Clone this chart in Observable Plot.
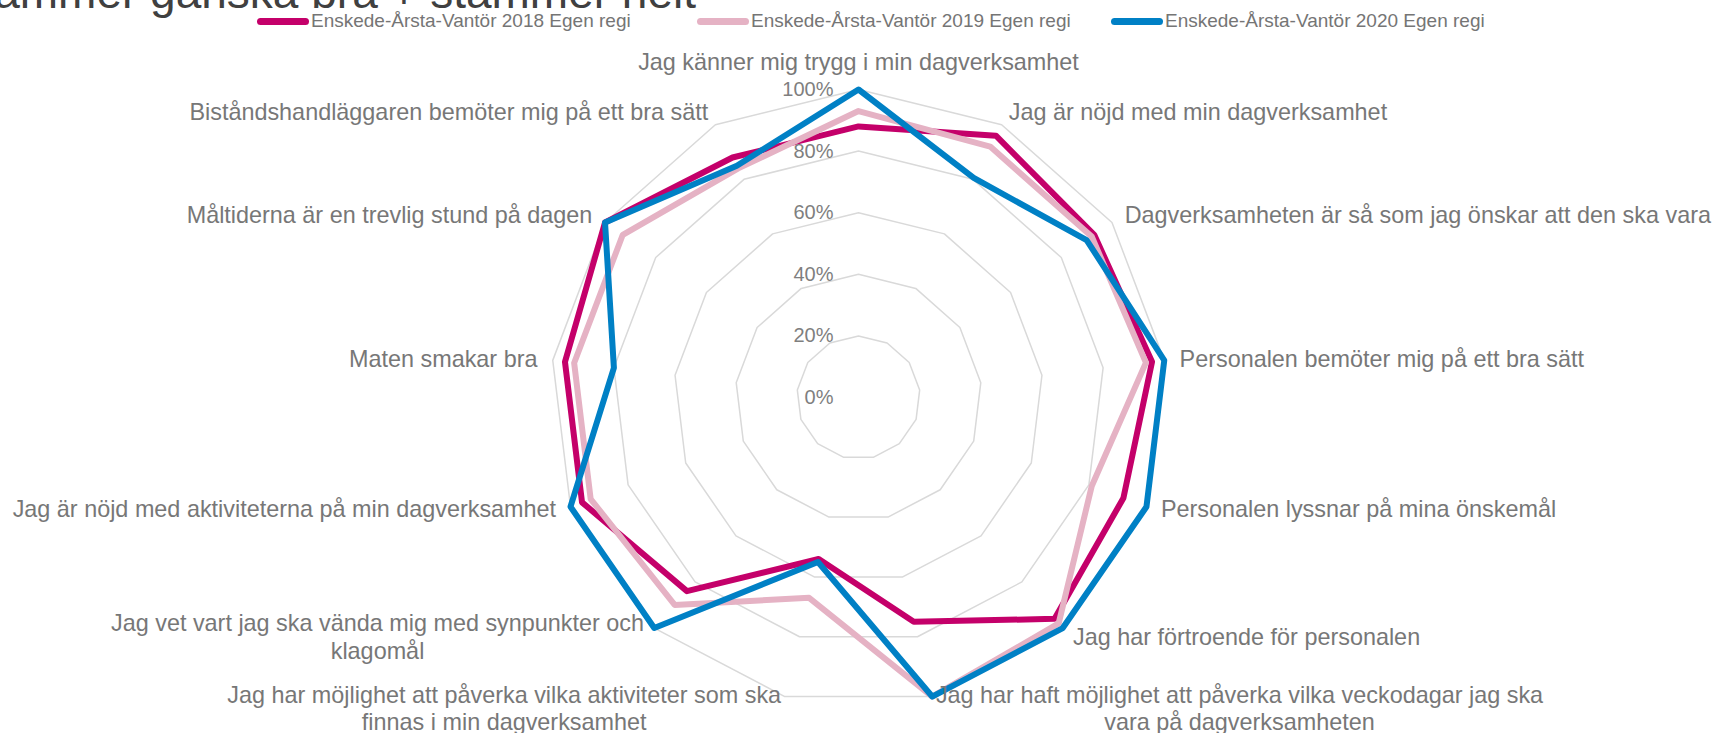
<!DOCTYPE html>
<html>
<head>
<meta charset="utf-8">
<script src="https://cdn.jsdelivr.net/npm/d3@7"></script>
<script src="https://cdn.jsdelivr.net/npm/@observablehq/plot@0.6"></script>
<style>
html, body { margin: 0; padding: 0; background: #fff; }
#wrap { position: relative; width: 1719px; height: 733px; overflow: hidden; font-family: "Liberation Sans", Arial, sans-serif; }
#title { position: absolute; right: 1023px; top: -31px; font-size: 46px; line-height: 1; color: #404040; white-space: nowrap; }
#legend { position: absolute; left: 0; top: 0; width: 1719px; height: 40px; }
.item { position: absolute; top: 10px; height: 22px; display: flex; align-items: center; font-size: 19px; color: #757575; white-space: nowrap; }
.sw { width: 52px; height: 7px; border-radius: 4px; margin-right: 2px; }
#chart { position: absolute; left: 0; top: 40px; }
</style>
</head>
<body>
<div id="wrap">
  <div id="title">stämmer ganska bra + stämmer helt</div>
  <div id="legend"></div>
  <div id="chart"></div>
</div>
<script>
// ---- data ----
const categories = [
  "Jag känner mig trygg i min dagverksamhet",
  "Jag är nöjd med min dagverksamhet",
  "Dagverksamheten är så som jag önskar att den ska vara",
  "Personalen bemöter mig på ett bra sätt",
  "Personalen lyssnar på mina önskemål",
  "Jag har förtroende för personalen",
  "Jag har haft möjlighet att påverka vilka veckodagar jag ska\nvara på dagverksamheten",
  "Jag har möjlighet att påverka vilka aktiviteter som ska\nfinnas i min dagverksamhet",
  "Jag vet vart jag ska vända mig med synpunkter och\nklagomål",
  "Jag är nöjd med aktiviteterna på min dagverksamhet",
  "Maten smakar bra",
  "Måltiderna är en trevlig stund på dagen",
  "Biståndshandläggaren bemöter mig på ett bra sätt"
];
const seriesNames = [
  "Enskede-Årsta-Vantör 2018 Egen regi",
  "Enskede-Årsta-Vantör 2019 Egen regi",
  "Enskede-Årsta-Vantör 2020 Egen regi"
];
const values2018 = [88, 96, 93, 96, 92, 96, 75, 54, 84, 96, 96, 100, 88];
const values2019 = [93, 92, 92, 94, 81, 98, 100, 67, 90, 93, 93, 93, 84];
const values2020 = [100, 80.5, 90, 100, 100, 100, 100, 55, 100, 100, 80, 100, 85];
const tickValues = [0, 20, 40, 60, 80, 100];
const tickLabels = ["0%", "20%", "40%", "60%", "80%", "100%"];
const gridRings = [20, 40, 60, 80, 100];
const seriesColors = ["#C4006A", "#E5B2C4", "#0080C5"];

// ---- layout ----
const W = 1719, H = 693, CX = 858, CY = 357, R = 308;
const n = categories.length;
const labelR = 1.05;
const labelFont = 23.4;
const lowerShift = 3.5; // px, lower labels sit slightly higher
const textGray = "#777777";

const angle = i => 2 * Math.PI * i / n;
const px = (v, i) => (v / 100) * Math.sin(angle(i));
const py = (v, i) => (v / 100) * Math.cos(angle(i));

const allValues = [values2018, values2019, values2020];
const seriesPts = [];
allValues.forEach((vals, s) => vals.forEach((v, i) => seriesPts.push({series: seriesNames[s], i, x: px(v, i), y: py(v, i)})));

const gridPts = [];
gridRings.forEach(r => categories.forEach((c, i) => gridPts.push({r, x: px(r, i), y: py(r, i)})));

// text measuring for multi-line labels (box edge at anchor, lines centered in box)
const ctx = document.createElement("canvas").getContext("2d");
ctx.font = `${labelFont}px "Liberation Sans", Arial, sans-serif`;
const measure = s => ctx.measureText(s).width;

const labelData = categories.map((c, i) => {
  const s = Math.sin(angle(i)), co = Math.cos(angle(i));
  const lines = c.split("\n");
  const side = Math.abs(s) < 1e-6 ? 0 : Math.sign(s);
  const anchor = side === 0 || lines.length > 1 ? "middle" : side > 0 ? "start" : "end";
  let lx = labelR * s;
  if (lines.length > 1) lx += side * d3.max(lines, measure) / 2 / R;
  let ly = labelR * co + (co < 0 ? lowerShift / R : 0);
  return {text: c, x: lx, y: ly, anchor, top: side === 0 && co > 0};
});

const tickData = tickValues.map((v, k) => ({v: v / 100, label: tickLabels[k]}));

const labelOpts = {x: "x", y: "y", text: "text", fontSize: labelFont, fill: textGray, lineHeight: 1.17};

const chart = Plot.plot({
  width: W,
  height: H,
  margin: 0,
  style: {fontFamily: '"Liberation Sans", Arial, sans-serif', background: "white", overflow: "visible"},
  x: {domain: [-CX / R, (W - CX) / R], axis: null},
  y: {domain: [-(H - CY) / R, CY / R], axis: null},
  color: {domain: seriesNames, range: seriesColors},
  marks: [
    Plot.line(gridPts, {x: "x", y: "y", z: "r", curve: "linear-closed", stroke: "#D9D9D9", strokeWidth: 1.5}),
    Plot.line(seriesPts, {x: "x", y: "y", z: "series", stroke: "series", curve: "linear-closed", strokeWidth: 6, strokeLinejoin: "round"}),
    Plot.text(tickData, {x: 0, y: "v", text: "label", textAnchor: "end", dx: -25, fontSize: 20, fill: "#7F7F7F"}),
    Plot.text(labelData.filter(d => d.anchor === "start"), {...labelOpts, textAnchor: "start"}),
    Plot.text(labelData.filter(d => d.anchor === "end"), {...labelOpts, textAnchor: "end"}),
    Plot.text(labelData.filter(d => d.anchor === "middle" && !d.top), {...labelOpts, textAnchor: "middle"}),
    Plot.text(labelData.filter(d => d.top), {...labelOpts, textAnchor: "middle", lineAnchor: "bottom", dy: -4})
  ]
});
document.getElementById("chart").appendChild(chart);

// legend
const legendLeft = [257, 697, 1111];
const legend = document.getElementById("legend");
seriesNames.forEach((name, s) => {
  const item = document.createElement("div");
  item.className = "item";
  item.style.left = legendLeft[s] + "px";
  const sw = document.createElement("div");
  sw.className = "sw";
  sw.style.background = chart.scale("color").apply(name);
  const t = document.createElement("span");
  t.textContent = name;
  item.appendChild(sw);
  item.appendChild(t);
  legend.appendChild(item);
});
</script>
</body>
</html>
